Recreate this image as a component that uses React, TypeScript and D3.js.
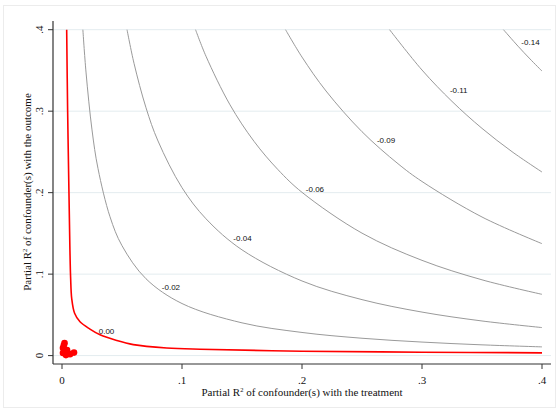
import React from 'react';
import * as d3 from 'd3';

// Axis ticks
const xTickValues = [0, 0.1, 0.2, 0.3, 0.4];
const xTickLabels = ['0', '.1', '.2', '.3', '.4'];
const yTickValues = [0, 0.1, 0.2, 0.3, 0.4];
const yTickLabels = ['0', '.1', '.2', '.3', '.4'];

// Contour levels (adjusted estimate)
const contourLevels = ['0.00', '-0.02', '-0.04', '-0.06', '-0.09', '-0.11', '-0.14'];

// Contour lines: [R2 with treatment, R2 with outcome]
const contour000: [number, number][] = [
  [0.0039, 0.4], [0.0047, 0.3], [0.0058, 0.2], [0.0066, 0.13], [0.0072, 0.095], [0.0081, 0.07],
  [0.0105, 0.052], [0.015, 0.0415], [0.0233, 0.0325], [0.0317, 0.0255], [0.0456, 0.0185],
  [0.0594, 0.0135], [0.0872, 0.0094], [0.115, 0.0078], [0.2, 0.0054], [0.3, 0.0042], [0.4, 0.0034],
];
const contour002: [number, number][] = [
  [0.0174, 0.4], [0.02, 0.348], [0.025, 0.277], [0.03, 0.2296], [0.04, 0.1704], [0.05, 0.1349],
  [0.07, 0.0943], [0.1, 0.0639], [0.15, 0.0402], [0.2, 0.0284], [0.25, 0.0213], [0.3, 0.0166],
  [0.35, 0.0132], [0.4, 0.0107],
];
const contour004: [number, number][] = [
  [0.0542, 0.4], [0.06, 0.3588], [0.07, 0.3042], [0.08, 0.2634], [0.1, 0.2061], [0.12, 0.1679],
  [0.15, 0.1298], [0.2, 0.0916], [0.25, 0.0687], [0.3, 0.0534], [0.35, 0.0425], [0.4, 0.0344],
];
const contour006: [number, number][] = [
  [0.1113, 0.4], [0.12, 0.3674], [0.14, 0.3078], [0.16, 0.263], [0.18, 0.2282], [0.2, 0.2004],
  [0.25, 0.1503], [0.3, 0.1169], [0.35, 0.093], [0.4, 0.0752],
];
const contour009: [number, number][] = [
  [0.1863, 0.4], [0.2, 0.3664], [0.22, 0.3248], [0.25, 0.2748], [0.28, 0.2355], [0.3, 0.2137],
  [0.35, 0.1701], [0.4, 0.1374],
];
const contour011: [number, number][] = [
  [0.273, 0.4], [0.3, 0.3505], [0.325, 0.312], [0.35, 0.2789], [0.375, 0.2503], [0.4, 0.2253],
];
const contour014: [number, number][] = [
  [0.3679, 0.4], [0.38, 0.3798], [0.39, 0.3641], [0.4, 0.3492],
];
const contourLines = [contour000, contour002, contour004, contour006, contour009, contour011, contour014];

// Where each contour label sits (data coordinates)
const labelX = [0.0371, 0.0908, 0.1504, 0.2108, 0.27, 0.3306, 0.3904];
const labelY = [0.0301, 0.084, 0.1442, 0.2037, 0.2644, 0.3249, 0.384];

// Benchmark points (red cluster near origin)
const benchX = [0.0021, 0.0008, 0.0008, 0.0033, 0.0067, 0.01, 0.0042, 0.0015];
const benchY = [0.0153, 0.0092, 0.0031, 0.0006, 0.0018, 0.0037, 0.0067, 0.0125];

const W = 558;
const H = 410;

export default function App() {
  const x = d3.scaleLinear().domain([0, 0.4]).range([62, 542]);
  const y = d3.scaleLinear().domain([0, 0.4]).range([355.6, 29.7]);
  const line = d3
    .line<[number, number]>()
    .x((d) => x(d[0]))
    .y((d) => y(d[1]))
    .curve(d3.curveCatmullRom.alpha(0.5));

  const axisX0 = 53;
  const axisY0 = 364;
  const plotRight = 551;
  const plotTop = 21;
  const serif = '"Liberation Serif", "Times New Roman", serif';
  const sans = '"Liberation Sans", Arial, sans-serif';

  return (
    <svg
      width={W}
      height={H}
      style={{ position: 'absolute', left: 0, top: 0, background: '#fff' }}
    >
      <rect x={3.5} y={5.5} width={552} height={402} fill="#fff" stroke="#ececec" strokeWidth={1} />
      {/* gridlines */}
      {yTickValues.map((v) => (
        <line
          key={'g' + v}
          x1={axisX0}
          x2={plotRight}
          y1={y(v)}
          y2={y(v)}
          stroke="#e3ecef"
          strokeWidth={1}
        />
      ))}
      {/* contours */}
      {contourLines.map((pts, i) => (
        <path
          key={'c' + i}
          d={line(pts) || ''}
          fill="none"
          stroke={i === 0 ? '#ff0000' : '#9a9a9a'}
          strokeWidth={i === 0 ? 1.6 : 1}
        />
      ))}
      {contourLevels.map((lab, i) => (
        <text
          key={'l' + i}
          x={x(labelX[i])}
          y={y(labelY[i])}
          fontFamily={sans}
          fontSize={8}
          textAnchor="middle"
          dominantBaseline="central"
          fill="#111"
        >
          {lab}
        </text>
      ))}
      {/* benchmark points */}
      {benchX.map((bx, i) => (
        <circle key={'b' + i} cx={x(bx)} cy={y(benchY[i])} r={3.3} fill="#ff0000" />
      ))}
      {/* y axis */}
      <line x1={axisX0} x2={axisX0} y1={plotTop} y2={axisY0} stroke="#333" strokeWidth={1.2} />
      {yTickValues.map((v, i) => (
        <g key={'yt' + v}>
          <line x1={axisX0 - 5} x2={axisX0} y1={y(v)} y2={y(v)} stroke="#333" strokeWidth={1} />
          <text
            transform={`translate(${39},${y(v)}) rotate(-90)`}
            textAnchor="middle"
            dominantBaseline="central"
            fontFamily={serif}
            fontSize={11}
            fill="#111"
          >
            {yTickLabels[i]}
          </text>
        </g>
      ))}
      {/* x axis */}
      <line x1={axisX0} x2={plotRight} y1={axisY0} y2={axisY0} stroke="#333" strokeWidth={1.2} />
      {xTickValues.map((v, i) => (
        <g key={'xt' + v}>
          <line x1={x(v)} x2={x(v)} y1={axisY0} y2={axisY0 + 5} stroke="#333" strokeWidth={1} />
          <text
            x={x(v)}
            y={384}
            textAnchor="middle"
            fontFamily={serif}
            fontSize={11}
            fill="#111"
          >
            {xTickLabels[i]}
          </text>
        </g>
      ))}
      {/* axis titles */}
      <text x={302} y={396} textAnchor="middle" fontFamily={serif} fontSize={11} fill="#111">
        Partial R
        <tspan fontSize={6.5} dy={-4}>2</tspan>
        <tspan dy={4}> of confounder(s) with the treatment</tspan>
      </text>
      <text
        transform={`translate(${31},${192}) rotate(-90)`}
        textAnchor="middle"
        fontFamily={serif}
        fontSize={11}
        fill="#111"
      >
        Partial R
        <tspan fontSize={6.5} dy={-4}>2</tspan>
        <tspan dy={4}> of confounder(s) with the outcome</tspan>
      </text>
    </svg>
  );
}
